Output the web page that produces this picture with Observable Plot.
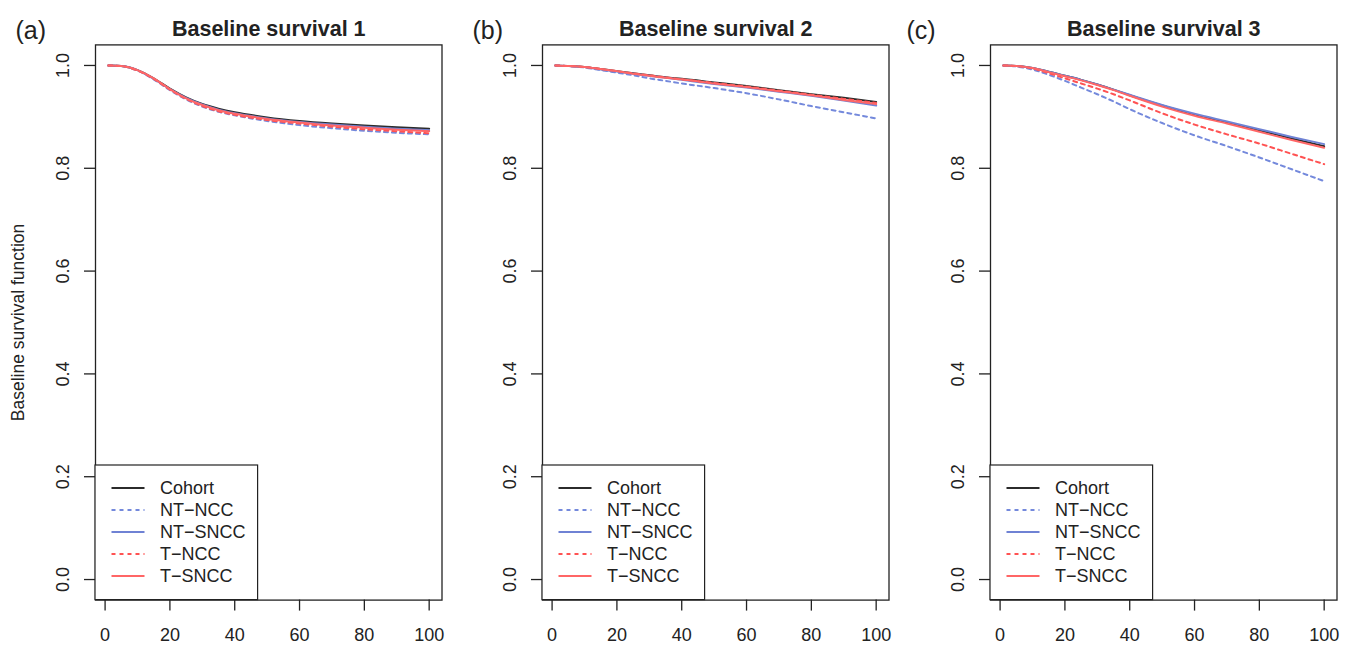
<!DOCTYPE html>
<html>
<head>
<meta charset="utf-8">
<script src="https://cdn.jsdelivr.net/npm/d3@7"></script>
<script src="https://cdn.jsdelivr.net/npm/@observablehq/plot@0.6"></script>
<style>
  body { margin: 0; background: #fff; }
  #wrap { position: relative; width: 1358px; height: 648px; overflow: hidden; }
  .panel { position: absolute; top: 0; }
</style>
</head>
<body>
<div id="wrap"></div>
<script>
// ---------- data ----------
const panelTitles = ["Baseline survival 1", "Baseline survival 2", "Baseline survival 3"];
const panelTags = ["(a)", "(b)", "(c)"];
const methods = ["Cohort", "NT-NCC", "NT-SNCC", "T-NCC", "T-SNCC"];
const time = [1, 5, 10, 15, 20, 25, 30, 35, 40, 50, 60, 70, 80, 90, 100];

// Panel (a)
const a_cohort = [1.000, 0.999, 0.991, 0.975, 0.955, 0.938, 0.925, 0.916, 0.909, 0.899, 0.892, 0.887, 0.883, 0.880, 0.877];
const a_ntncc  = [1.000, 0.999, 0.990, 0.973, 0.952, 0.934, 0.920, 0.910, 0.903, 0.892, 0.884, 0.878, 0.873, 0.869, 0.866];
const a_ntsncc = [1.000, 0.999, 0.991, 0.974, 0.954, 0.937, 0.924, 0.914, 0.907, 0.897, 0.890, 0.885, 0.881, 0.877, 0.874];
const a_tncc   = [1.000, 0.999, 0.990, 0.974, 0.953, 0.935, 0.921, 0.911, 0.904, 0.894, 0.887, 0.881, 0.876, 0.872, 0.868];
const a_tsncc  = [1.000, 0.999, 0.991, 0.975, 0.954, 0.936, 0.923, 0.913, 0.906, 0.896, 0.889, 0.883, 0.879, 0.875, 0.872];

// Panel (b)
const b_cohort = [1.000, 0.999, 0.997, 0.993, 0.989, 0.985, 0.981, 0.977, 0.974, 0.967, 0.960, 0.952, 0.944, 0.937, 0.929];
const b_ntncc  = [1.000, 0.999, 0.996, 0.991, 0.986, 0.981, 0.975, 0.970, 0.965, 0.956, 0.946, 0.934, 0.921, 0.909, 0.897];
const b_ntsncc = [1.000, 0.999, 0.997, 0.992, 0.988, 0.984, 0.980, 0.976, 0.972, 0.964, 0.957, 0.949, 0.941, 0.932, 0.922];
const b_tncc   = [1.000, 0.999, 0.997, 0.993, 0.989, 0.985, 0.981, 0.977, 0.973, 0.966, 0.959, 0.951, 0.943, 0.935, 0.927];
const b_tsncc  = [1.000, 0.999, 0.997, 0.993, 0.989, 0.984, 0.980, 0.976, 0.973, 0.965, 0.958, 0.950, 0.942, 0.933, 0.925];

// Panel (c)
const c_cohort = [1.000, 0.999, 0.995, 0.988, 0.980, 0.972, 0.963, 0.953, 0.942, 0.922, 0.904, 0.889, 0.874, 0.858, 0.843];
const c_ntncc  = [1.000, 0.998, 0.992, 0.982, 0.970, 0.957, 0.944, 0.930, 0.915, 0.888, 0.864, 0.843, 0.821, 0.798, 0.775];
const c_ntsncc = [1.000, 0.999, 0.995, 0.988, 0.980, 0.972, 0.963, 0.953, 0.943, 0.923, 0.906, 0.891, 0.876, 0.861, 0.847];
const c_tncc   = [1.000, 0.999, 0.994, 0.985, 0.975, 0.965, 0.955, 0.944, 0.932, 0.907, 0.885, 0.866, 0.848, 0.828, 0.808];
const c_tsncc  = [1.000, 0.999, 0.995, 0.987, 0.979, 0.971, 0.962, 0.952, 0.941, 0.920, 0.902, 0.887, 0.871, 0.855, 0.840];

const xTicks = [0, 20, 40, 60, 80, 100];
const yTicks = [0, 0.2, 0.4, 0.6, 0.8, 1.0];
const yTickLabels = ["0.0", "0.2", "0.4", "0.6", "0.8", "1.0"];
const yLabel = "Baseline survival function";

const series = [
  [a_cohort, a_ntncc, a_ntsncc, a_tncc, a_tsncc],
  [b_cohort, b_ntncc, b_ntsncc, b_tncc, b_tsncc],
  [c_cohort, c_ntncc, c_ntsncc, c_tncc, c_tsncc]
];

// ---------- styles ----------
const FONT = '"Liberation Sans", Arial, Helvetica, sans-serif';
const INK = "#222";
const FS = 18;
const strokes = ["#2b2b2b", "#7489dc", "#6f82d4", "#ff5252", "#ff6666"];
const dashes = [null, "4,4", null, "4,4", null];
const panelLeft = [0.4, 447.4, 895.4];
const tagDx = [-80, -70, -84];

const wrap = document.getElementById("wrap");

function legendMark(index, scales, values, dims) {
  const g = d3.create("svg:g");
  const x0 = dims.marginLeft;
  const yb = dims.height - dims.marginBottom;
  const h = 134.6, w = 162.6;
  g.append("rect")
    .attr("x", x0).attr("y", yb - h).attr("width", w).attr("height", h)
    .attr("fill", "white").attr("stroke", INK).attr("stroke-width", 1.2);
  methods.forEach((m, j) => {
    const y = yb - 111.6 + j * 22;
    const ln = g.append("line")
      .attr("x1", x0 + 16.5).attr("x2", x0 + 49.5).attr("y1", y).attr("y2", y)
      .attr("stroke", strokes[j]).attr("stroke-width", 2);
    if (dashes[j]) ln.attr("stroke-dasharray", dashes[j]);
    g.append("text")
      .attr("x", x0 + 65).attr("y", y).attr("dy", "0.35em")
      .attr("text-anchor", "start")
      .attr("fill", INK).attr("font-size", FS).attr("font-family", FONT)
      .text(m.replace(/-/g, "\u2212"));
  });
  return g.node();
}

for (let k = 0; k < 3; k++) {
  const lineMarks = methods.map((m, j) => {
    const rows = time.map((t, i) => ({t, s: series[k][j][i]}));
    return Plot.line(rows, {
      x: "t", y: "s", stroke: strokes[j], strokeWidth: 2,
      strokeDasharray: dashes[j] || undefined, curve: "monotone-x"
    });
  });

  const marks = [
    Plot.frame({stroke: INK, strokeWidth: 1.3}),
    Plot.axisX({ticks: xTicks, tickSize: 11, tickPadding: 17, fontSize: FS, label: null, stroke: INK, strokeWidth: 1.3}),
    Plot.axisY({ticks: yTicks, tickSize: 11, tickFormat: () => "", label: null, stroke: INK, strokeWidth: 1.3}),
    Plot.text(yTicks, {y: d => d, text: (d, i) => yTickLabels[i], frameAnchor: "left", dx: -32, rotate: -90, textAnchor: "middle", lineAnchor: "middle", fontSize: FS, fill: INK}),
    ...lineMarks,
    legendMark,
    Plot.text([panelTitles[k]], {frameAnchor: "top", dy: -24.4, fontWeight: "bold", fontSize: 21.5, fill: INK}),
    Plot.text([panelTags[k]], {frameAnchor: "top-left", dx: tagDx[k], dy: -24, textAnchor: "start", fontSize: 25, fill: INK})
  ];
  if (k === 0) {
    marks.push(Plot.text([yLabel], {frameAnchor: "left", dx: -77, rotate: -90, textAnchor: "middle", lineAnchor: "middle", fontSize: 17.5, fill: INK}));
  }

  const chart = Plot.plot({
    width: 450, height: 648,
    marginLeft: 95, marginRight: 8.5, marginTop: 44.4, marginBottom: 48.4,
    style: {fontFamily: FONT, fontSize: FS + "px", color: INK, background: "transparent", overflow: "visible"},
    x: {domain: [-2.96, 103.96]},
    y: {domain: [-0.04, 1.04]},
    marks
  });
  const div = document.createElement("div");
  div.className = "panel";
  div.style.left = panelLeft[k] + "px";
  div.appendChild(chart);
  wrap.appendChild(div);
}
</script>
</body>
</html>
